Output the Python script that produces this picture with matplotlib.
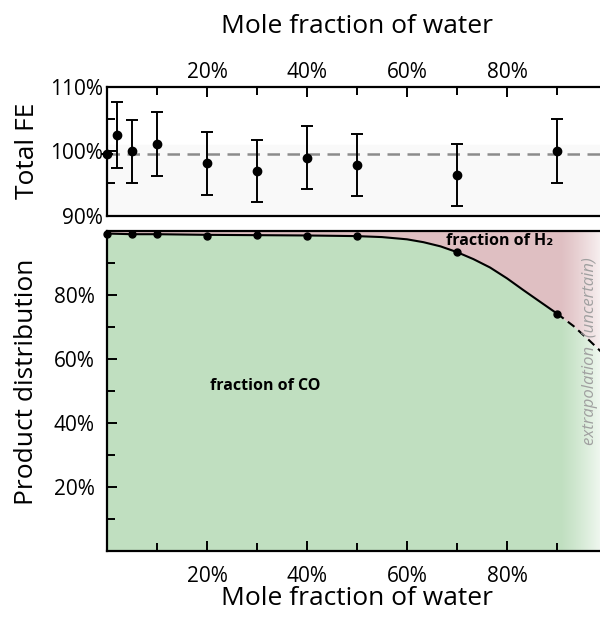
import numpy as np
import matplotlib
matplotlib.use("Agg")
import matplotlib.pyplot as plt
from matplotlib.ticker import MultipleLocator, FuncFormatter, FixedLocator

plt.rcParams['font.family'] = ['Open Sans', 'DejaVu Sans']

# total faradaic efficiency (top panel)
fe_x = [0.0, 0.02, 0.05, 0.1, 0.2, 0.3, 0.4, 0.5, 0.7, 0.9]
fe_y = [99.5, 102.5, 100.0, 101.1, 98.1, 96.9, 99.0, 97.8, 96.3, 100.0]
fe_err = [0.0, 5.1, 4.9, 5.0, 4.9, 4.8, 4.9, 4.8, 4.8, 5.0]
fe_mean = 99.5

# product distribution (bottom panel)
pd_x = [0.0, 0.05, 0.1, 0.2, 0.3, 0.4, 0.5, 0.7, 0.9]
pd_y = [99.2, 99.0, 99.2, 98.5, 98.6, 98.3, 98.3, 93.3, 74.2]
curve_x = [0.0, 0.05, 0.1, 0.2, 0.3, 0.4, 0.5, 0.55, 0.6, 0.633, 0.667,
           0.7, 0.733, 0.766, 0.8, 0.833, 0.866, 0.9]
curve_y = [99.2, 99.0, 99.0, 98.8, 98.7, 98.6, 98.4, 98.1, 97.4, 96.5, 95.2,
           93.4, 91.2, 88.6, 85.2, 81.5, 77.9, 74.2]
extrap_x = [0.9, 0.933, 0.966, 1.0]
extrap_y = [74.2, 70.3, 65.6, 60.5]

tick_labels = {0.2: '20%', 0.4: '40%', 0.6: '60%', 0.8: '80%'}

W, H = 600, 617
fig = plt.figure(figsize=(6.0, 6.17), dpi=100)

def box(l, r, t, b):
    return [l / W, 1 - b / H, (r - l) / W, (b - t) / H]

ax1 = fig.add_axes(box(107, 607, 86.7, 215.7))
ax2 = fig.add_axes(box(107, 607, 231, 551))

lw_sp = 1.6
for ax in (ax1, ax2):
    for s in ax.spines.values():
        s.set_linewidth(lw_sp)
    ax.set_xlim(0, 1)

# ---- top panel ----
ax1.axhspan(90, 101, color='#f9f9f9', zorder=0)
ax1.axhline(fe_mean, color='#8c8c8c', lw=1.8, ls=(0, (5, 3)), zorder=1)
ax1.errorbar(fe_x, fe_y, yerr=fe_err, fmt='o', color='black', ms=6,
             capsize=4, elinewidth=1.4, capthick=1.4, clip_on=False, zorder=3)
ax1.set_ylim(90, 110)
ax1.xaxis.tick_top()
ax1.xaxis.set_label_position('top')
ax1.xaxis.set_major_locator(FixedLocator([0.2, 0.4, 0.6, 0.8]))
ax1.xaxis.set_minor_locator(FixedLocator([0.1, 0.3, 0.5, 0.7, 0.9]))
ax1.xaxis.set_major_formatter(FuncFormatter(lambda v, p: tick_labels.get(round(v, 1), '')))
ax1.yaxis.set_major_locator(MultipleLocator(10))
ax1.yaxis.set_minor_locator(MultipleLocator(5))
ax1.yaxis.set_major_formatter(FuncFormatter(lambda v, p: '%d%%' % v))
ax1.tick_params(axis='both', which='both', direction='in', width=1.4, labelsize=15)
ax1.tick_params(axis='both', which='major', length=7)
ax1.tick_params(axis='both', which='minor', length=6)
ax1.tick_params(axis='x', which='both', top=True, bottom=False, pad=3)
ax1.tick_params(axis='y', pad=3)
ax1.set_xlabel('Mole fraction of water', fontsize=19)
ax1.set_ylabel('Total FE', fontsize=19)
ax1.xaxis.set_label_coords(0.5, 1.47)
ax1.xaxis.label.set_va('center')
ax1.yaxis.set_label_coords(-0.16, 0.5)
ax1.yaxis.label.set_va('center')

# ---- bottom panel ----
full_x = curve_x + extrap_x[1:]
full_y = curve_y + extrap_y[1:]
ax2.fill_between(full_x, 0, full_y, color='#c0dfc0', lw=0, zorder=1)
ax2.fill_between(full_x, full_y, 100, color='#dfbfc2', lw=0, zorder=1)

# fade to white over the extrapolated region
grad = np.zeros((1, 200, 4))
grad[..., :3] = 1.0
grad[0, :, 3] = np.linspace(0, 1, 200) ** 1.2 * 0.93
ax2.imshow(grad, extent=[0.905, 1.0, 0, 100], aspect='auto', zorder=2,
           interpolation='bilinear')

ax2.plot(curve_x, curve_y, color='black', lw=1.5, zorder=3)
ax2.plot(extrap_x, extrap_y, color='black', lw=1.5, ls=(0, (4, 2.5)), zorder=3)
ax2.plot(pd_x, pd_y, 'o', color='black', ms=5, clip_on=False, zorder=4)

ax2.set_ylim(0, 100)
ax2.xaxis.set_major_locator(FixedLocator([0.2, 0.4, 0.6, 0.8]))
ax2.xaxis.set_minor_locator(FixedLocator([0.1, 0.3, 0.5, 0.7, 0.9]))
ax2.xaxis.set_major_formatter(FuncFormatter(lambda v, p: tick_labels.get(round(v, 1), '')))
ax2.yaxis.set_major_locator(FixedLocator([20, 40, 60, 80]))
ax2.yaxis.set_minor_locator(FixedLocator([10, 30, 50, 70, 90]))
ax2.yaxis.set_major_formatter(FuncFormatter(lambda v, p: '%d%%' % v))
ax2.tick_params(axis='both', which='both', direction='in', width=1.4, labelsize=15)
ax2.tick_params(axis='both', which='major', length=7)
ax2.tick_params(axis='both', which='minor', length=6)
ax2.tick_params(axis='x', pad=11)
ax2.tick_params(axis='y', pad=9)
ax2.set_xlabel('Mole fraction of water', fontsize=19)
ax2.set_ylabel('Product distribution', fontsize=19)
ax2.xaxis.set_label_coords(0.5, -0.147)
ax2.xaxis.label.set_va('center')
ax2.yaxis.set_label_coords(-0.16, 0.528)
ax2.yaxis.label.set_va('center')

ax2.text(0.316, 51.6, 'fraction of CO', fontsize=11.5, fontweight='bold',
         ha='center', va='center', zorder=5)
ax2.text(0.786, 96.9, 'fraction of H₂', fontsize=11.5, fontweight='bold',
         ha='center', va='center', zorder=5)
ax2.text(0.967, 62.6, 'extrapolation  (uncertain)', fontsize=12, style='italic',
         color='#a0a0a0', rotation=90, ha='center', va='center', zorder=5)

fig.savefig('out.png', dpi=100)
